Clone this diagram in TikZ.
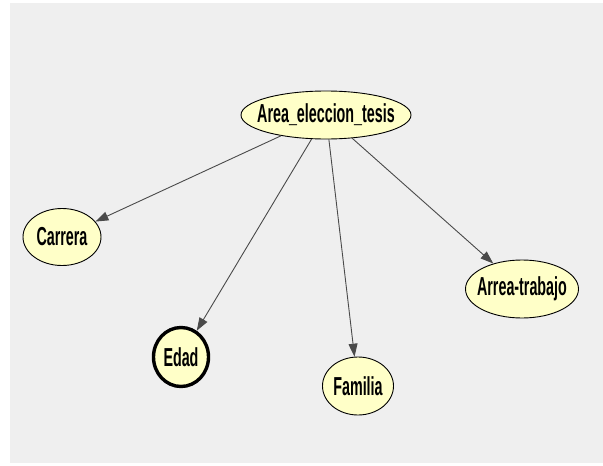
\documentclass[tikz,border=0pt]{standalone}
\usepackage{fontspec}
\usetikzlibrary{shapes.geometric,arrows.meta}
\newfontfamily\varfont{Liberation Sans}[FakeStretch=0.55]
\definecolor{panelgray}{HTML}{EFEFEF}
\definecolor{varfill}{HTML}{FFFFC8}
\definecolor{edgegray}{HTML}{4A4A4A}
\newcommand{\varname}[1]{\makebox[0pt][c]{#1}}
\tikzset{
  var/.style={ellipse, draw=black, fill=varfill, line width=0.9pt, inner sep=0pt,
              font=\varfont\bfseries\fontsize{26}{26}\selectfont},
  evid/.style={var, line width=3.4pt},
  link/.style={draw=edgegray, line width=0.9pt, -{Triangle[length=13pt,width=9pt]}}
}
\begin{document}
\begin{tikzpicture}[x=1pt, y=-1pt]
\useasboundingbox (0, 0) rectangle (603, 466);
\fill[white] (0, 0) rectangle (603, 466);
\fill[panelgray] (10, 3) rectangle (603, 463);

\node[var, minimum width=170pt, minimum height=48pt] (area) at (326, 115) {\varname{Area\_eleccion\_tesis}};
\node[var, minimum width=78pt, minimum height=57pt] (carrera) at (62, 237) {\varname{Carrera}};
\node[evid, minimum width=55pt, minimum height=59pt] (edad) at (181, 357) {\varname{Edad}};
\node[var, minimum width=71pt, minimum height=58pt] (familia) at (358, 386) {\varname{Familia}};
\node[var, minimum width=113pt, minimum height=58pt] (trabajo) at (522, 289) {\varname{Arrea-trabajo}};

\draw[link] (area) -- (carrera);
\draw[link] (area) -- (edad);
\draw[link] (area) -- (familia);
\draw[link] (area) -- (trabajo);
\end{tikzpicture}
\end{document}
